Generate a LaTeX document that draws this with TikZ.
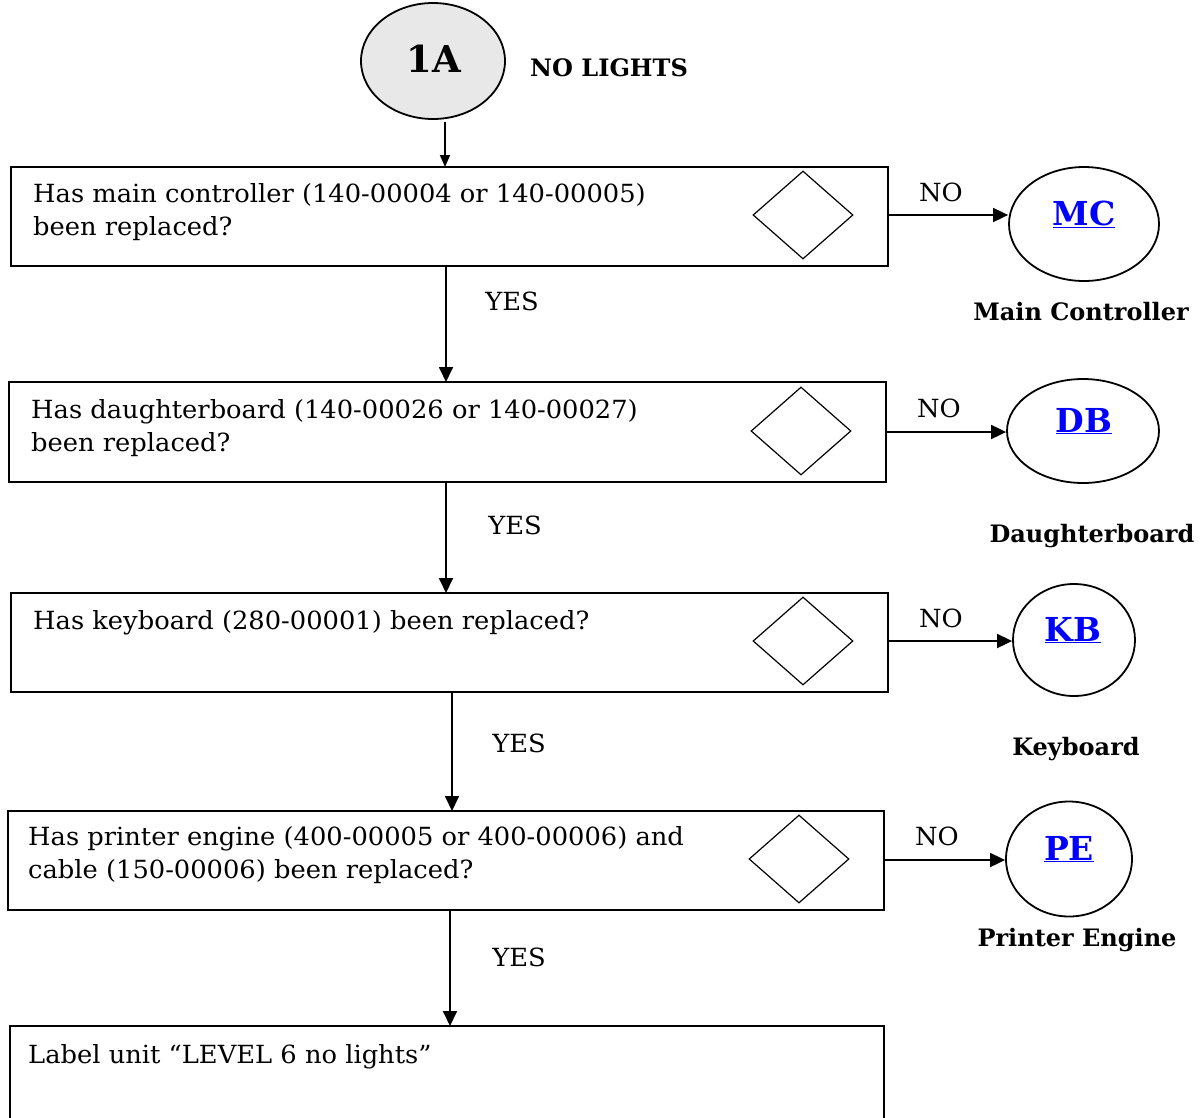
\documentclass[tikz,border=0pt]{standalone}
\usepackage{fontspec}
\setmainfont{DejaVu Serif}
\newfontfamily\regfont[FakeStretch=1.03]{DejaVu Serif}
\usetikzlibrary{arrows.meta,shapes.geometric}
\tikzset{
  qbox/.style={draw,line width=1.9pt},
  dia/.style={draw,line width=1.2pt,diamond,minimum width=100pt,minimum height=88pt,inner sep=0pt},
  circ/.style={draw,line width=1.8pt,ellipse,inner sep=0pt},
  link/.style={font=\fontsize{33}{36}\selectfont\bfseries,text=blue},
  txt/.style={anchor=base west,inner sep=0pt,font=\regfont\fontsize{25}{33}\selectfont,align=left},
  lbl/.style={inner sep=0pt,font=\regfont\fontsize{25}{27}\selectfont},
  captext/.style={inner sep=0pt,font=\fontsize{24}{26}\selectfont\bfseries},
  arr/.style={line width=1.8pt,-{Triangle[length=15pt,width=14pt]}},
}
\begin{document}
\begin{tikzpicture}[x=1pt,y=-1pt]
\useasboundingbox (0,0) rectangle (1200,1117);
% start
\node[circ,fill=black!9,minimum width=144pt,minimum height=116pt] (start) at (433,61) {};
\node[font=\fontsize{37}{40}\selectfont\bfseries,inner sep=0pt] (startl) at (434,59) {1A};
\node[font=\fontsize{24}{26}\selectfont\bfseries,inner sep=0pt,anchor=west] (title) at (530,68) {NO LIGHTS};
\coordinate (s0) at (445,122);
% boxes
\draw[qbox] (11,167) rectangle (888,266);
\draw[qbox] (9,382) rectangle (886,482);
\draw[qbox] (11,593) rectangle (888,692);
\draw[qbox] (8,811) rectangle (884,910);
\draw[qbox] (10,1026) rectangle (884,1130);
\coordinate (b1t) at (445,167); \coordinate (b1b) at (446,266); \coordinate (b1r) at (888,215);
\coordinate (b2t) at (446,382); \coordinate (b2b) at (446,482); \coordinate (b2r) at (886,432);
\coordinate (b3t) at (446,593); \coordinate (b3b) at (452,692); \coordinate (b3r) at (888,641);
\coordinate (b4t) at (452,811); \coordinate (b4b) at (450,910); \coordinate (b4r) at (884,860);
\coordinate (b5t) at (450,1026);
\node[txt] (t1) at (33,235) {Has main controller (140-00004 or 140-00005)\\been replaced?};
\node[txt] (t2) at (31,451) {Has daughterboard (140-00026 or 140-00027)\\been replaced?};
\node[txt] (t3) at (33,629) {Has keyboard (280-00001) been replaced?};
\node[txt] (t4) at (28,878) {Has printer engine (400-00005 or 400-00006) and\\cable (150-00006) been replaced?};
\node[txt] (t5) at (28,1063) {Label unit “LEVEL 6 no lights”};
% diamonds
\node[dia] (d1) at (803,215) {};
\node[dia] (d2) at (801,431) {};
\node[dia] (d3) at (803,641) {};
\node[dia] (d4) at (799,859) {};
% ellipses
\node[circ,minimum width=150pt,minimum height=114pt] (mc) at (1084,224) {};
\node[link] at (1084,214) {\underline{MC}};
\node[circ,minimum width=152pt,minimum height=104pt] (db) at (1083,431) {};
\node[link] at (1084,421) {\underline{DB}};
\node[circ,minimum width=122pt,minimum height=112pt] (kb) at (1074,640) {};
\node[link] at (1073,630) {\underline{KB}};
\node[circ,minimum width=126pt,minimum height=115pt] (pe) at (1069,859) {};
\node[link] at (1069,849) {\underline{PE}};
\node[captext] (c1) at (1081,312) {Main Controller};
\node[captext] (c2) at (1092,536) {Daughterboard};
\node[captext] (c3) at (1076,749) {Keyboard};
\node[captext] (c4) at (1077,940) {Printer Engine};
% arrows
\draw[arr,-{Triangle[length=12pt,width=10pt]}] (s0) -- (b1t);
\draw[arr] (b1b) -- (b2t);
\draw[arr] (b2b) -- (b3t);
\draw[arr] (b3b) -- (b4t);
\draw[arr] (b4b) -- (b5t);
\draw[arr] (b1r) -- (mc.west |- b1r);
\draw[arr] (b2r) -- (db.west |- b2r);
\draw[arr] (b3r) -- (kb.west |- b3r);
\draw[arr] (b4r) -- (pe.west |- b4r);
\node[lbl] (y1) at (512,301) {YES};
\node[lbl] (y2) at (515,525) {YES};
\node[lbl] (y3) at (519,743) {YES};
\node[lbl] (y4) at (519,957) {YES};
\node[lbl] (n1) at (941,192) {NO};
\node[lbl] (n2) at (939,408) {NO};
\node[lbl] (n3) at (941,618) {NO};
\node[lbl] (n4) at (937,836) {NO};
\end{tikzpicture}
\end{document}
